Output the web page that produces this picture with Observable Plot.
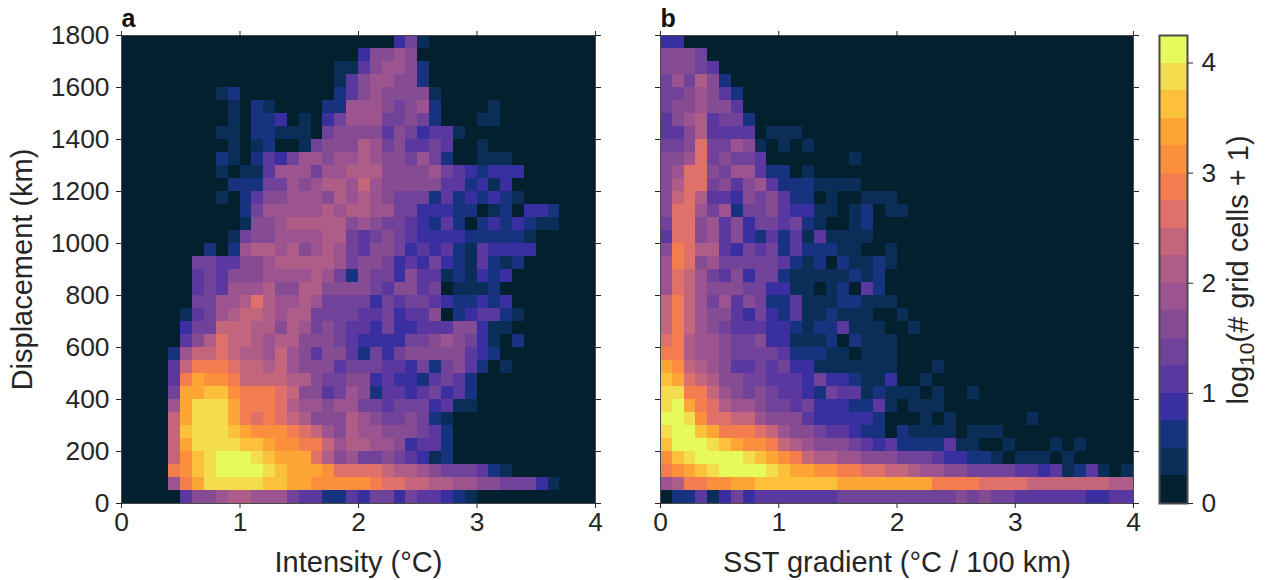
<!DOCTYPE html>
<html>
<head>
<meta charset="utf-8">
<script src="https://cdn.jsdelivr.net/npm/d3@7"></script>
<script src="https://cdn.jsdelivr.net/npm/@observablehq/plot@0.6"></script>
<style>
html,body{margin:0;padding:0;background:#fff;overflow:hidden}
#fig{position:relative;width:1270px;height:580px;font-family:"Liberation Sans",Arial,sans-serif;color:#262626}
#fig svg{position:absolute;top:0;background:transparent}
#cblabel{position:absolute;left:1238px;top:270px;white-space:nowrap;font-size:29px;line-height:1;transform:translate(-50%,-50%) rotate(-90deg)}
#cblabel sub{font-size:21px;line-height:0}
</style>
</head>
<body>
<div id="fig"><div id="cblabel">log<sub>10</sub>(# grid cells + 1)</div></div>
<script>
// Colour class of every bin; each class is 0.25 wide in log10(# grid cells + 1).
// Rows run from the 1750-1800 km bin down to the 0-50 km bin; missing trailing columns are 0.
const intensityRows = [
[0,0,0,0,0,0,0,0,0,0,0,0,0,0,0,0,0,0,0,0,0,0,0,3,5,1],
[0,0,0,0,0,0,0,0,0,0,0,0,0,0,0,0,0,0,0,0,3,6,6,7,6],
[0,0,0,0,0,0,0,0,0,0,0,0,0,0,0,0,0,0,1,1,4,6,7,7,6,2],
[0,0,0,0,0,0,0,0,0,0,0,0,0,0,0,0,0,0,1,4,6,7,7,6,6,2],
[0,0,0,0,0,0,0,0,1,2,0,0,0,0,0,0,0,0,2,4,6,7,6,6,6,6,1],
[0,0,0,0,0,0,0,0,0,1,0,2,1,0,0,0,0,2,2,7,7,7,6,5,6,7,2,0,0,0,0,1],
[0,0,0,0,0,0,0,0,0,1,0,2,2,3,0,1,0,3,5,7,7,7,5,5,6,5,2,0,0,0,1,1],
[0,0,0,0,0,0,0,0,1,1,0,2,2,1,1,1,0,5,6,6,6,6,4,6,5,3,4,4,1],
[0,0,0,0,0,0,0,0,0,1,0,1,2,0,0,1,5,6,6,6,8,7,5,6,4,4,5,4,0,0,1],
[0,0,0,0,0,0,0,0,2,1,0,2,4,3,5,7,7,6,7,7,8,7,6,6,5,7,5,2,0,0,1,1,1],
[0,0,0,0,0,0,0,0,1,0,1,1,4,7,7,7,5,7,7,8,8,8,6,6,6,6,7,5,4,3,2,3,3,3],
[0,0,0,0,0,0,0,0,0,2,2,2,5,5,7,6,7,8,8,7,9,7,6,6,6,6,6,4,4,2,3,1,3],
[0,0,0,0,0,0,0,0,1,0,2,4,6,6,7,7,7,6,8,7,8,7,6,5,5,5,2,4,2,3,2,3,2,1],
[0,0,0,0,0,0,0,0,0,0,2,5,7,7,7,7,7,8,7,8,8,7,7,5,5,3,3,3,2,2,0,1,2,0,3,3,2],
[0,0,0,0,0,0,0,0,0,0,1,6,6,7,8,8,8,8,8,6,7,6,5,5,4,3,2,4,2,0,2,3,2,3,2,1,1],
[0,0,0,0,0,0,0,0,0,1,5,6,6,7,7,7,7,8,8,5,4,5,6,5,4,3,3,3,3,2,2,2,2,2,1],
[0,0,0,0,0,0,0,2,0,2,7,8,8,7,8,6,7,8,7,5,4,6,6,5,3,4,3,4,2,1,4,3,3,3,3],
[0,0,0,0,0,0,5,5,4,4,6,6,7,8,8,8,8,8,7,5,6,6,5,3,4,3,5,3,2,1,4,2,1,2],
[0,0,0,0,0,0,4,5,4,6,6,6,7,7,7,7,8,7,5,2,6,5,5,3,6,4,4,1,2,1,3,2,3],
[0,0,0,0,0,0,4,5,4,7,7,7,8,6,6,8,8,6,6,6,6,5,4,6,6,4,5,0,1,1,1,2],
[0,0,0,0,0,0,5,5,7,7,8,10,8,7,7,8,7,5,5,5,5,3,5,4,5,5,4,3,2,2,3,2,3],
[0,0,0,0,0,1,4,5,7,8,9,9,8,7,8,8,5,5,5,5,4,4,5,3,4,4,6,0,2,3,4,4,2,1],
[0,0,0,0,0,3,5,5,9,9,9,8,8,6,8,7,5,6,5,4,4,3,5,3,3,4,4,4,6,6,3,1,1],
[0,0,0,0,0,4,6,8,10,9,9,8,7,8,8,6,6,6,5,4,3,3,3,3,5,5,6,7,6,5,3,1,0,2],
[0,0,0,0,2,7,9,9,10,9,8,8,7,9,7,6,4,6,6,4,2,5,3,5,6,6,6,6,6,4,3,2],
[0,0,0,0,4,9,11,11,11,10,9,9,8,9,7,6,6,6,4,5,5,5,4,4,3,5,2,5,6,4,2,0,1],
[0,0,0,0,4,11,13,12,12,11,9,9,9,9,8,8,6,5,5,6,6,3,4,3,3,2,4,5,4,2],
[0,0,0,0,5,13,13,14,14,12,11,11,11,10,9,6,6,4,5,7,6,2,4,4,3,4,5,3,4,2],
[0,0,0,0,7,13,15,15,15,13,11,11,11,10,8,7,7,6,7,7,5,5,4,5,5,5,3,4,1,1],
[0,0,0,0,9,13,15,15,15,13,11,10,11,10,9,8,6,6,6,8,7,6,5,5,6,5,2,1],
[0,0,0,0,9,14,15,15,15,14,13,12,12,12,11,10,9,7,6,8,7,7,6,6,6,5,4,2],
[0,0,0,0,9,13,15,15,15,15,14,14,13,12,12,11,11,9,7,8,8,7,7,6,3,4,4,2],
[0,0,0,0,9,12,14,15,16,16,16,15,14,13,13,13,10,8,6,7,5,5,6,5,4,3,1,2],
[0,0,0,0,11,12,14,15,16,16,16,16,15,14,13,13,13,12,10,10,10,10,9,8,8,7,6,5,5,5,4,2,1],
[0,0,0,0,7,11,13,15,15,15,15,15,14,14,13,13,12,12,12,12,12,11,10,10,9,9,8,8,7,7,6,6,5,5,5,3,1],
[0,0,0,0,0,4,6,6,7,8,8,7,7,7,5,4,4,2,2,4,3,5,5,3,5,4,4,3,2,1]
];
const gradientRows = [
[3,3],
[6,6,6,5],
[6,6,6,5,4],
[5,7,5,8,6,2],
[5,5,6,7,6,4,2],
[5,6,6,7,6,6,4],
[4,6,7,8,4,5,5,2],
[4,4,6,8,4,4,4,4,0,1,1,1],
[5,5,6,10,5,5,7,6,1,0,1,0,1],
[6,6,7,10,5,6,5,5,4,0,0,0,0,0,0,0,1],
[6,7,10,10,6,5,7,7,4,2,2,0,1],
[6,8,10,10,5,6,4,6,7,4,2,2,2,1,1,1,1],
[6,9,10,8,4,4,3,6,5,6,4,2,2,0,1,0,0,1,1,1],
[6,10,10,7,5,7,2,5,5,6,4,3,3,1,1,0,1,2,0,1,1],
[5,10,10,6,7,4,6,3,5,5,4,5,2,1,0,0,1,2],
[4,10,10,6,7,4,6,3,2,4,2,4,1,4,1,1,1,1],
[6,11,10,8,8,4,3,5,4,5,2,4,2,2,2,1,1,0,0,1],
[7,11,10,6,7,5,5,5,5,5,4,2,1,2,0,2,1,1,2,1],
[7,10,9,7,5,4,6,3,5,5,2,1,1,1,1,1,2,1,2,0],
[7,10,9,7,6,6,6,5,5,3,3,1,1,0,1,2,0,4,2,0],
[9,11,9,7,5,7,4,6,5,2,2,4,1,1,1,2,2,1,1,1],
[9,11,9,7,6,6,4,3,5,3,2,4,1,1,2,1,1,1,0,0,1],
[9,11,9,7,6,5,4,4,4,3,3,2,1,2,2,4,1,1,1,0,0,1],
[10,11,8,7,7,6,5,5,6,3,3,1,1,1,2,0,2,1,1,1],
[11,11,8,7,7,6,5,5,5,5,4,2,2,2,1,1,0,1,1,1],
[13,12,9,8,7,6,4,4,5,4,5,3,3,1,1,1,1,1,1,1,0,0,0,1],
[14,13,10,9,8,6,6,5,5,4,4,4,3,5,3,3,2,1,1,3,0,0,1],
[15,15,11,11,9,7,6,5,6,5,4,4,3,2,5,4,4,1,2,1,1,1,0,1,0,0,1],
[15,16,13,11,10,8,7,7,6,5,5,4,5,3,3,3,2,2,4,1,0,1,1,1],
[16,16,15,12,10,10,9,9,7,6,6,6,4,3,3,3,3,3,2,0,0,0,1,0,1,0,0,0,0,0,0,1],
[15,16,16,14,13,11,11,11,10,9,7,6,6,5,4,4,3,2,2,0,2,1,1,1,1,0,1,1,1],
[14,16,16,16,15,14,13,12,12,11,9,8,7,6,6,6,5,4,3,4,2,2,2,2,4,1,1,0,0,1,0,0,0,1,0,1],
[12,14,15,16,16,16,16,15,14,13,12,11,9,8,8,7,7,6,6,6,5,5,5,4,3,3,2,2,1,0,1,1,1,0,1],
[11,12,13,14,15,16,16,16,16,15,14,13,13,12,12,11,11,10,10,9,9,8,7,7,6,6,5,5,5,5,4,4,3,4,1,2,4,1,0,1],
[7,8,11,11,12,12,13,13,14,14,14,14,14,14,14,13,13,13,13,13,13,13,13,11,11,11,11,10,10,10,10,9,9,9,9,9,9,9,8,8],
[0,2,2,4,1,3,5,3,4,4,4,4,4,4,4,5,5,5,5,5,5,5,5,5,5,6,5,6,5,5,4,4,4,4,4,4,3,3,4,4]
];
const classColors = ["#03202f","#0b2e58","#17337f","#3a2fa0","#5a389f","#71429a","#864c93","#9c5490","#ad5d88","#c3667c","#df706a","#f47d50","#fb8f3c","#fda636","#fcc13b","#f3dd4e","#e7fa5b"];
const classThresholds = [0.25,0.5,0.75,1,1.25,1.5,1.75,2,2.25,2.5,2.75,3,3.25,3.5,3.75,4];
const xTicks = [0,1,2,3,4];
const yTicks = [0,200,400,600,800,1000,1200,1400,1600,1800];
const cbTicks = [0,1,2,3,4];
const binX = 0.1, binY = 50, nCols = 40, yMax = 1800, cbMax = 4.25, classWidth = 0.25;

const ink = "#262626";
const tickFont = 26.4, labelFont = 29;
const fillScale = {type:"threshold", domain:classThresholds, range:classColors};
const baseStyle = {fontFamily:'"Liberation Sans",Arial,sans-serif', fontSize:"24px", color:ink, background:"transparent"};

function cells(rows){
  const out = [];
  rows.forEach((row,r)=>{
    for(let c=0;c<nCols;c++){
      const k = row[c]||0;
      out.push({x1:c*binX, x2:(c+1)*binX, y1:yMax-(r+1)*binY, y2:yMax-r*binY, v:(k+0.5)*classWidth});
    }
  });
  return out;
}

function panel(rows,{letter,xLabel,showY,left,width,marginLeft,marginRight}){
  const svg = Plot.plot({
    width, height:580, marginLeft, marginRight, marginTop:35, marginBottom:77,
    style:baseStyle,
    x:{domain:[0,4]}, y:{domain:[0,yMax]}, color:fillScale,
    marks:[
      Plot.rect(cells(rows),{x1:"x1",x2:"x2",y1:"y1",y2:"y2",fill:"v",shapeRendering:"crispEdges"}),
      Plot.frame({stroke:"#4a4a4a",strokeWidth:1}),
      Plot.axisX({anchor:"bottom",ticks:xTicks,tickSize:5,tickPadding:4,label:null,stroke:ink,fill:ink,tickFormat:d=>String(d),fontSize:tickFont}),
      Plot.axisX({anchor:"top",ticks:xTicks,tickSize:5,text:null,label:null,stroke:ink}),
      showY
        ? Plot.axisY({anchor:"left",ticks:yTicks,tickSize:5,tickPadding:7,label:null,stroke:ink,fill:ink,fontSize:tickFont,tickFormat:d=>String(d)})
        : Plot.axisY({anchor:"left",ticks:yTicks,tickSize:5,text:null,label:null,stroke:ink}),
      Plot.axisY({anchor:"right",ticks:yTicks,tickSize:5,text:null,label:null,stroke:ink}),
      Plot.text([xLabel],{frameAnchor:"bottom",textAnchor:"middle",lineAnchor:"middle",dy:59,fontSize:labelFont,fill:ink}),
      showY ? Plot.text(["Displacement (km)"],{frameAnchor:"left",textAnchor:"middle",lineAnchor:"middle",rotate:-90,dx:-99,fontSize:labelFont,fill:ink}) : null,
      Plot.text([letter],{frameAnchor:"top-left",textAnchor:"start",lineAnchor:"bottom",dy:-9,fontWeight:"bold",fontSize:25,fill:"#111"})
    ]
  });
  svg.style.left = left+"px";
  return svg;
}

const fig = document.getElementById("fig");
fig.append(panel(intensityRows,{letter:"a",xLabel:"Intensity (°C)",showY:true,left:0,width:620,marginLeft:121,marginRight:25}));
fig.append(panel(gradientRows,{letter:"b",xLabel:"SST gradient (°C / 100 km)",showY:false,left:620,width:540,marginLeft:40,marginRight:27}));

const bands = classColors.map((_,k)=>({y1:k*classWidth,y2:(k+1)*classWidth,v:(k+0.5)*classWidth}));
const bar = Plot.plot({
  width:130, height:580, marginLeft:19, marginRight:83, marginTop:35, marginBottom:77,
  style:baseStyle,
  x:{domain:[0,1],axis:null}, y:{domain:[0,cbMax]}, color:fillScale,
  marks:[
    Plot.rect(bands,{x1:0,x2:1,y1:"y1",y2:"y2",fill:"v",shapeRendering:"crispEdges"}),
    Plot.frame({stroke:"#4a4a4a",strokeWidth:2}),
    Plot.axisY({anchor:"right",ticks:cbTicks,tickSize:5,tickPadding:9,label:null,stroke:ink,fill:ink,fontSize:tickFont,tickFormat:d=>String(d)})
  ]
});
bar.style.left = "1140px";
fig.append(bar);
</script>
</body>
</html>
